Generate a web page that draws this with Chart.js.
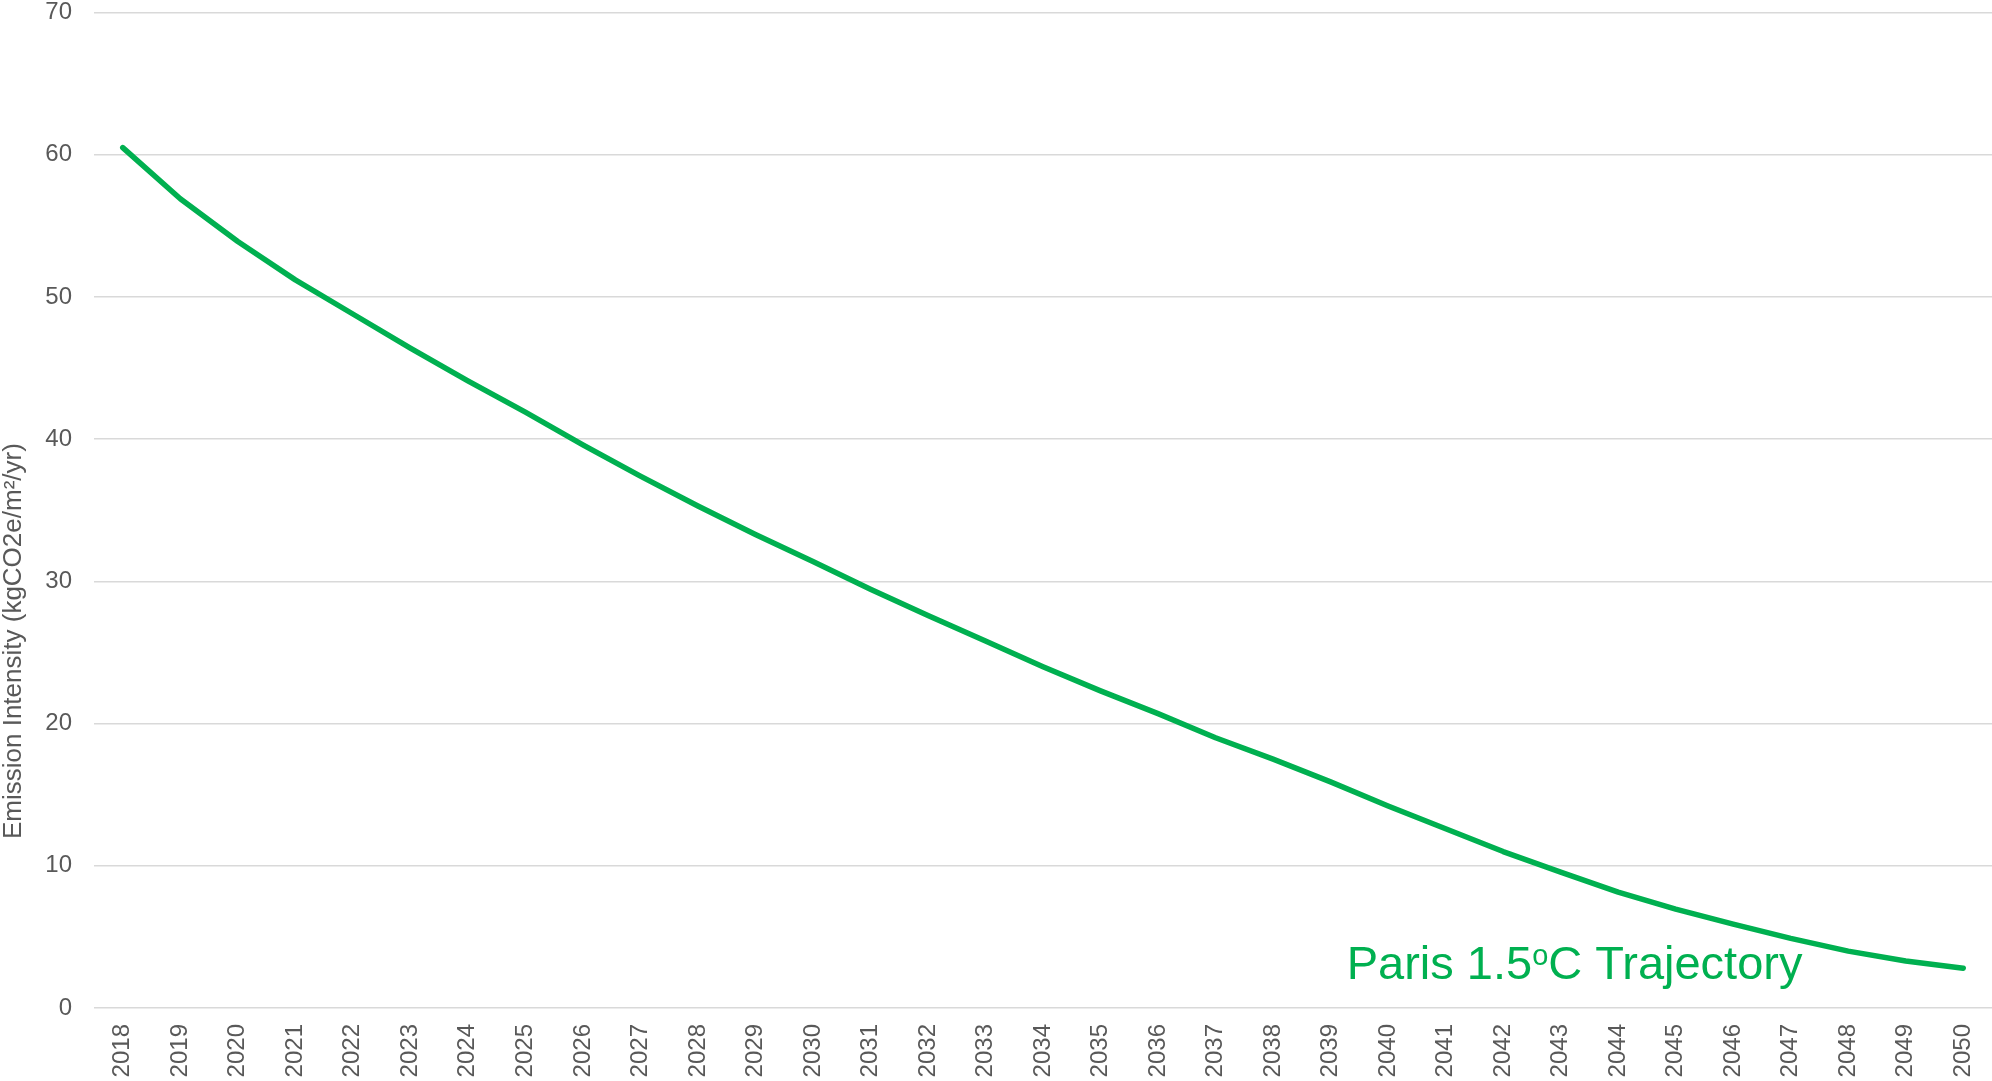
<!DOCTYPE html>
<html>
<head>
<meta charset="utf-8">
<title>Paris 1.5°C Trajectory</title>
<script src="https://cdn.jsdelivr.net/npm/chart.js@4.4.1/dist/chart.umd.min.js"></script>
<style>
    html, body { margin: 0; padding: 0; background: #fff; }
    #chart-wrap { width: 1992px; height: 1081px; }
</style>
</head>
<body>
<div id="chart-wrap">
    <canvas id="trajectory-chart" width="1992" height="1081"></canvas>
</div>
<script>
// Data
const years = [
    "2018", "2019", "2020", "2021", "2022", "2023", "2024", "2025", "2026",
    "2027", "2028", "2029", "2030", "2031", "2032", "2033", "2034", "2035",
    "2036", "2037", "2038", "2039", "2040", "2041", "2042", "2043", "2044",
    "2045", "2046", "2047", "2048", "2049", "2050"
];
const emissionIntensity = [
    60.5, 56.9, 53.9, 51.2, 48.8, 46.4, 44.1, 41.9, 39.6,
    37.4, 35.3, 33.3, 31.4, 29.45, 27.6, 25.8, 24.0, 22.3,
    20.7, 19.0, 17.5, 15.9, 14.2, 12.6, 11.0, 9.55, 8.15,
    6.95, 5.9, 4.9, 4.0, 3.3, 2.8
];
const yTicks = [0, 10, 20, 30, 40, 50, 60, 70];
const yAxisTitle = "Emission Intensity (kgCO2e/m²/yr)";
const seriesLabel = ["Paris 1.5", "o", "C Trajectory"];

const lineColor = "#00B050";
const textColor = "#595959";
const gridColor = "#d9d9d9";
const fontFamily = "'Liberation Sans', Arial, sans-serif";

Chart.defaults.font.family = fontFamily;

// Axis title + in-chart series label
const overlayText = {
    id: "overlayText",
    afterDraw(chart) {
        const { ctx, scales: { x, y } } = chart;

        ctx.save();
        ctx.fillStyle = textColor;
        ctx.font = `26px ${fontFamily}`;
        ctx.textAlign = "center";
        ctx.textBaseline = "alphabetic";
        ctx.translate(21, y.getPixelForValue(25.8));
        ctx.rotate(-Math.PI / 2);
        ctx.fillText(yAxisTitle, 0, 0);
        ctx.restore();

        ctx.save();
        ctx.fillStyle = lineColor;
        ctx.textAlign = "left";
        ctx.textBaseline = "alphabetic";
        let px = x.getPixelForValue(21.28);
        const py = y.getPixelForValue(2.07);

        ctx.font = `47px ${fontFamily}`;
        ctx.fillText(seriesLabel[0], px, py);
        px += ctx.measureText(seriesLabel[0]).width;

        ctx.font = `29px ${fontFamily}`;
        ctx.fillText(seriesLabel[1], px, py - 14);
        px += ctx.measureText(seriesLabel[1]).width;

        ctx.font = `47px ${fontFamily}`;
        ctx.fillText(seriesLabel[2], px, py);
        ctx.restore();
    }
};

const ctx = document.getElementById("trajectory-chart").getContext("2d");

new Chart(ctx, {
    type: "line",
    data: {
        labels: years,
        datasets: [{
            label: seriesLabel.join(""),
            data: emissionIntensity,
            borderColor: lineColor,
            backgroundColor: lineColor,
            borderWidth: 5.5,
            borderCapStyle: "round",
            borderJoinStyle: "round",
            pointRadius: 0,
            tension: 0,
            fill: false
        }]
    },
    options: {
        responsive: false,
        animation: false,
        devicePixelRatio: 1,
        layout: {
            padding: { top: 12.5, right: 0, bottom: 0, left: 0 }
        },
        scales: {
            x: {
                offset: true,
                grid: { display: false, drawTicks: false },
                border: { display: false },
                ticks: {
                    color: textColor,
                    font: { size: 24 },
                    padding: 16,
                    autoSkip: false,
                    minRotation: 90,
                    maxRotation: 90
                },
                afterFit: (axis) => {
                    axis.height = 73;
                    axis.paddingLeft = 0;
                    axis.paddingRight = 0;
                }
            },
            y: {
                min: yTicks[0],
                max: yTicks[yTicks.length - 1],
                grid: {
                    color: gridColor,
                    lineWidth: 1.5,
                    drawTicks: false
                },
                border: { display: false },
                ticks: {
                    stepSize: yTicks[1] - yTicks[0],
                    color: textColor,
                    font: { size: 24, lineHeight: 1 },
                    padding: 22
                },
                afterFit: (axis) => {
                    axis.width = 94;
                    axis.paddingTop = 0;
                    axis.paddingBottom = 0;
                }
            }
        },
        plugins: {
            legend: { display: false },
            tooltip: { enabled: false }
        }
    },
    plugins: [overlayText]
});
</script>
</body>
</html>
